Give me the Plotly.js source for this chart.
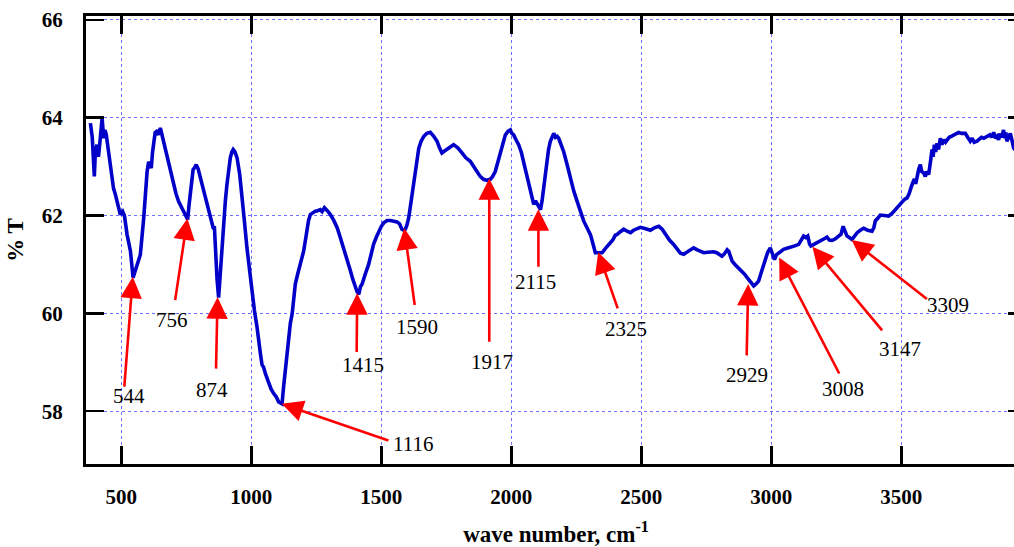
<!DOCTYPE html>
<html>
<head>
<meta charset="utf-8">
<script src="https://cdn.plot.ly/plotly-3.0.1.min.js"></script>
<style>
html, body { margin: 0; padding: 0; overflow: hidden; background: #fff; }
#chart { width: 1030px; height: 547px; }
</style>
</head>
<body>
<div id="chart"></div>
<script>
// Wave number (cm^-1) and % transmittance
const waveNumber = [
 381,388,396,400,406,412,419,426,432,437,442,451,458,464,470,477,486,496,505,512,522,535,545,552,560,573,586,593,599,605,610,615,620,624,630,635,642,650,663,672,682,690,701,710,720,730,740,748,755,760,768,776,782,788,795,801,810,819,828,836,845,853,858,862,868,874,880,887,893,900,906,912,919,925,930,937,945,955,964,973,983,993,1003,1012,1022,1030,1035,1041,1047,1055,1067,1076,1086,1095,1105,1112,1118,1124,1131,1137,1143,1150,1157,1163,1169,1178,1188,1195,1201,1208,1214,1220,1227,1236,1246,1255,1265,1272,1281,1292,1304,1317,1330,1342,1355,1368,1381,1390,1400,1406,1413,1420,1426,1432,1441,1451,1460,1470,1480,1490,1500,1509,1522,1535,1548,1560,1570,1579,1586,1592,1598,1605,1612,1618,1625,1631,1638,1644,1653,1663,1675,1688,1700,1714,1724,1733,1743,1753,1765,1778,1795,1810,1825,1842,1855,1868,1880,1893,1906,1919,1928,1938,1948,1958,1967,1977,1987,1996,2002,2009,2018,2028,2038,2047,2057,2067,2076,2086,2093,2099,2106,2112,2118,2124,2130,2137,2143,2150,2156,2163,2170,2176,2182,2192,2201,2214,2227,2240,2253,2265,2278,2291,2304,2310,2316,2323,2336,2349,2362,2374,2390,2400,2406,2419,2425,2432,2445,2458,2470,2483,2496,2510,2522,2535,2550,2567,2580,2592,2608,2624,2640,2650,2663,2675,2688,2701,2715,2727,2740,2755,2765,2778,2790,2800,2810,2820,2830,2836,2842,2849,2860,2874,2886,2897,2907,2920,2932,2941,2951,2962,2970,2977,2986,2996,3004,3012,3020,3028,3038,3047,3060,3073,3090,3105,3114,3124,3132,3140,3147,3152,3160,3176,3195,3205,3214,3223,3233,3245,3259,3268,3276,3283,3291,3300,3310,3320,3330,3342,3355,3370,3387,3394,3400,3410,3419,3435,3451,3465,3477,3490,3503,3512,3522,3530,3541,3550,3555,3561,3567,3573,3578,3586,3592,3598,3605,3612,3618,3622,3627,3632,3637,3643,3650,3656,3663,3670,3676,3684,3692,3701,3710,3720,3732,3746,3755,3765,3772,3780,3791,3800,3808,3817,3828,3840,3847,3855,3862,3868,3874,3880,3886,3893,3898,3902,3906,3912,3919,3925,3932,3945,3960
];
const transmittance = [
 63.89,63.6,62.8,63.3,63.45,63.2,63.58,63.99,63.58,63.75,63.65,63.31,63.0,62.77,62.55,62.43,62.2,62.02,62.08,61.99,61.61,61.27,60.73,60.85,61.0,61.2,61.95,62.5,62.9,63.1,63.05,62.97,63.3,63.5,63.7,63.72,63.65,63.79,63.5,63.25,63.04,62.85,62.63,62.45,62.29,62.18,62.09,62.0,61.92,62.2,62.56,62.94,62.98,63.04,62.96,62.84,62.65,62.43,62.3,62.09,61.95,61.75,61.75,61.21,60.7,60.32,60.8,61.48,61.89,62.3,62.63,62.95,63.18,63.3,63.35,63.3,63.18,62.85,62.43,61.9,61.34,60.85,60.39,60.05,59.71,59.3,59.17,58.95,58.9,58.75,58.56,58.45,58.36,58.3,58.19,58.16,58.15,58.5,58.9,59.25,59.58,59.8,59.99,60.3,60.6,60.8,61.0,61.1,61.27,61.5,61.75,61.9,62.02,62.06,62.09,62.1,62.12,62.08,62.16,62.1,62.02,61.9,61.75,61.55,61.34,61.1,60.87,60.7,60.53,60.45,60.39,60.55,60.6,60.73,60.85,61.0,61.2,61.41,61.55,61.68,61.78,61.85,61.9,61.9,61.88,61.87,61.83,61.72,61.7,61.72,61.8,61.95,62.2,62.43,62.7,62.97,63.2,63.38,63.52,63.62,63.68,63.7,63.63,63.52,63.38,63.28,63.32,63.35,63.4,63.45,63.38,63.28,63.18,63.11,63.0,62.9,62.8,62.74,62.72,62.74,62.8,62.9,63.1,63.31,63.5,63.65,63.72,63.75,63.68,63.65,63.55,63.45,63.3,63.11,62.9,62.7,62.45,62.23,62.3,62.23,62.15,62.12,62.3,62.56,62.85,63.11,63.35,63.52,63.62,63.68,63.6,63.62,63.58,63.45,63.31,63.05,62.77,62.5,62.29,62.08,61.89,61.75,61.61,61.5,61.35,61.24,61.24,61.24,61.33,61.41,61.5,61.6,61.61,61.67,61.7,61.72,61.68,61.65,61.7,61.74,61.76,61.74,61.72,61.7,61.75,61.78,61.72,61.61,61.5,61.41,61.3,61.23,61.21,61.25,61.3,61.34,61.3,61.27,61.24,61.25,61.26,61.26,61.24,61.2,61.17,61.22,61.3,61.27,61.15,61.07,61.0,60.93,60.85,60.8,60.73,60.65,60.56,60.6,60.66,60.85,61.0,61.07,61.25,61.34,61.2,61.1,61.2,61.24,61.28,61.31,61.33,61.36,61.38,61.41,61.5,61.58,61.55,61.58,61.42,61.38,61.4,61.44,61.5,61.53,61.56,61.5,61.49,61.52,61.58,61.62,61.78,61.68,61.58,61.55,61.51,61.58,61.65,61.7,61.74,61.7,61.68,61.75,61.89,61.95,62.01,62.0,61.99,62.05,62.12,62.2,62.29,62.33,62.36,62.45,62.63,62.75,62.65,62.84,62.95,63.04,62.9,62.87,62.8,62.9,62.84,63.1,63.35,63.2,63.45,63.3,63.48,63.35,63.58,63.45,63.55,63.5,63.55,63.6,63.62,63.65,63.68,63.7,63.68,63.68,63.6,63.52,63.58,63.5,63.52,63.56,63.6,63.58,63.62,63.65,63.6,63.7,63.58,63.62,63.55,63.68,63.6,63.75,63.58,63.7,63.52,63.6,63.68,63.55,63.38,63.3,63.25
];

// Peak labels with arrow tip (on the curve), arrow tail and label position (data units)
const peakLabels = ['544','756','874','1116','1415','1590','1917','2115','2325','2929','3008','3147','3309'];
const tipX  = [544, 754, 870, 1117, 1407, 1588, 1915, 2104, 2334, 2911, 3030, 3158, 3309];
const tipY  = [60.75, 61.94, 60.33, 58.15, 60.41, 61.74, 62.76, 62.13, 61.25, 60.6, 61.14, 61.36, 61.5];
const tailX = [511, 706, 864, 1533, 1405, 1629, 1915, 2104, 2411, 2905, 3264, 3431, 3604];
const tailY = [58.47, 60.24, 58.84, 57.39, 59.18, 60.14, 59.39, 60.92, 60.07, 59.11, 58.74, 59.62, 60.27];
const labelX = [529, 694, 848, 1622, 1430, 1636, 1924, 2091, 2441, 2905, 3275, 3495, 3680];
const labelY = [58.31, 59.86, 58.43, 57.33, 58.94, 59.73, 59.01, 60.65, 59.69, 58.74, 58.45, 59.28, 60.17];

const xTicks = [500, 1000, 1500, 2000, 2500, 3000, 3500];
const yTicks = [58, 60, 62, 64, 66];

const serif = '"Liberation Serif", "Times New Roman", Times, serif';

const annotations = [];
peakLabels.forEach((t, i) => {
  annotations.push({
    x: tipX[i], y: tipY[i], ax: tailX[i], ay: tailY[i],
    xref: 'x', yref: 'y', axref: 'x', ayref: 'y',
    text: '', showarrow: true, arrowhead: 2, arrowsize: 1.65, arrowwidth: 2.6,
    arrowcolor: '#ff0000', standoff: 0, startstandoff: 0
  });
  annotations.push({
    x: labelX[i], y: labelY[i], xref: 'x', yref: 'y',
    text: t, showarrow: false, xanchor: 'center', yanchor: 'middle',
    font: { family: serif, size: 21, color: '#000' }
  });
});

const trace = {
  x: waveNumber, y: transmittance, type: 'scatter', mode: 'lines',
  line: { color: '#0000c8', width: 3.6 }, hoverinfo: 'skip'
};

const layout = {
  width: 1030, height: 547,
  margin: { l: 86, r: 4, t: 16, b: 83 },
  paper_bgcolor: '#fff', plot_bgcolor: '#fff',
  font: { family: serif },
  showlegend: false,
  xaxis: {
    range: [364, 3979.4], tickvals: xTicks, ticktext: xTicks.map(String),
    ticks: 'inside', ticklen: 18, tickwidth: 2.5, tickcolor: '#000',
    showline: true, linecolor: '#000', linewidth: 3, mirror: 'ticks',
    showgrid: true, gridcolor: '#6e6eff', gridwidth: 1, griddash: '3px,3px',
    zeroline: false, ticklabelstandoff: 12,
    tickfont: { family: serif, size: 21, color: '#000', weight: 'bold' },
    title: { text: 'wave number, cm<sup>-1</sup>', standoff: 22,
             font: { family: serif, size: 23, color: '#000', weight: 'bold' } }
  },
  yaxis: {
    range: [56.92, 66.08], tickvals: yTicks, ticktext: yTicks.map(String),
    ticks: 'inside', ticklen: 18, tickwidth: 2.5, tickcolor: '#000',
    showline: true, linecolor: '#000', linewidth: 3, mirror: 'ticks',
    showgrid: true, gridcolor: '#6e6eff', gridwidth: 1, griddash: '3px,3px',
    zeroline: false, ticklabelstandoff: 16,
    tickfont: { family: serif, size: 21, color: '#000', weight: 'bold' },
    title: { text: '% T', standoff: 12,
             font: { family: serif, size: 23, color: '#000', weight: 'bold' } }
  },
  annotations: annotations
};

Plotly.newPlot('chart', [trace], layout, { staticPlot: true, displayModeBar: false });
</script>
</body>
</html>
